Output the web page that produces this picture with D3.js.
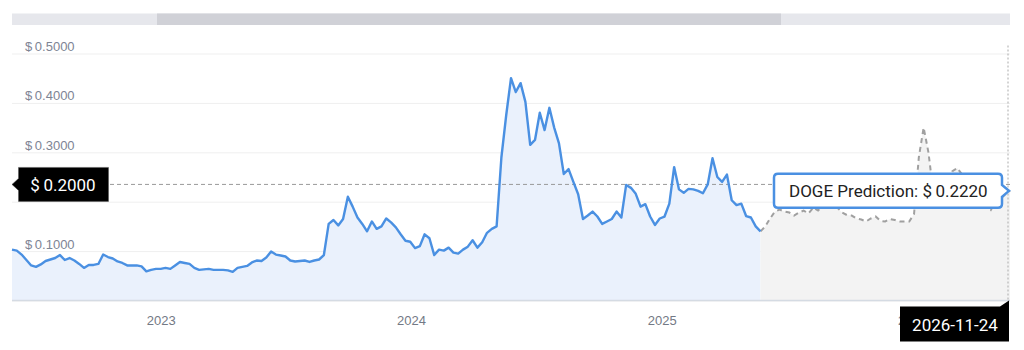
<!DOCTYPE html>
<html>
<head>
<meta charset="utf-8">
<script src="https://cdn.jsdelivr.net/npm/d3@7"></script>
<style>
  body { margin: 0; background: #fff; }
  svg { display: block; font-family: Roboto, "Noto Sans", sans-serif; }
</style>
</head>
<body>
<svg id="chart" width="1024" height="350"></svg>
<script>
// weekly DOGE closes
var histStart = "2022-05-29";
var histPrices = [
  0.103, 0.101, 0.093, 0.082, 0.071, 0.068, 0.073, 0.080, 0.083, 0.086,
  0.092, 0.082, 0.086, 0.081, 0.074, 0.066, 0.072, 0.072, 0.074, 0.093,
  0.088, 0.085, 0.079, 0.076, 0.071, 0.071, 0.071, 0.069, 0.059, 0.062,
  0.064, 0.064, 0.066, 0.064, 0.071, 0.078, 0.076, 0.074, 0.066, 0.062,
  0.063, 0.064, 0.062, 0.062, 0.062, 0.061, 0.058, 0.066, 0.068, 0.070,
  0.077, 0.081, 0.080, 0.087, 0.099, 0.093, 0.091, 0.089, 0.081, 0.079,
  0.080, 0.081, 0.078, 0.081, 0.083, 0.092, 0.155, 0.163, 0.152, 0.165,
  0.210, 0.190, 0.168, 0.155, 0.140, 0.160, 0.145, 0.150, 0.166, 0.158,
  0.148, 0.134, 0.121, 0.119, 0.106, 0.110, 0.134, 0.126, 0.092, 0.103,
  0.101, 0.107, 0.097, 0.095, 0.103, 0.109, 0.122, 0.107, 0.118, 0.137,
  0.145, 0.150, 0.290, 0.375, 0.450, 0.422, 0.440, 0.402, 0.315, 0.325,
  0.380, 0.345, 0.390, 0.350, 0.318, 0.256, 0.266, 0.240, 0.215, 0.165,
  0.172, 0.180, 0.170, 0.155, 0.160, 0.165, 0.180, 0.168, 0.234, 0.228,
  0.216, 0.190, 0.195, 0.170, 0.153, 0.166, 0.170, 0.196, 0.270, 0.225,
  0.218, 0.226, 0.225, 0.222, 0.217, 0.235, 0.288, 0.250, 0.240, 0.255,
  0.203, 0.193, 0.196, 0.171, 0.168, 0.150, 0.140
];

var predStart = "2025-05-25";
var predPrices = [
  0.140, 0.150, 0.166, 0.180, 0.184, 0.180, 0.178, 0.172, 0.178, 0.182,
  0.176, 0.188, 0.182, 0.192, 0.185, 0.195, 0.188, 0.178, 0.173, 0.172,
  0.166, 0.164, 0.160, 0.166, 0.170, 0.161, 0.160, 0.165, 0.163, 0.160,
  0.160, 0.160, 0.175, 0.290, 0.350, 0.300, 0.220, 0.200, 0.205, 0.230,
  0.262, 0.268, 0.255, 0.225, 0.205, 0.200, 0.192, 0.190, 0.183, 0.200,
  0.205, 0.215, 0.222
];

var yTicks = [0, 0.1, 0.2, 0.3, 0.4, 0.5];
var yTickLabels = ["$\u20090.00", "$\u20090.1000", "$\u20090.2000", "$\u20090.3000", "$\u20090.4000", "$\u20090.5000"];
var xTicks = ["2023-01-01", "2024-01-01", "2025-01-01", "2026-01-01"];
var domainDates = ["2022-05-29", "2026-05-24"];

var crossValue = 0.235;
var crossLabel = "$\u20090.2000";
var dateLabel = "2026-11-24";
var tipText = "DOGE Prediction: $\u20090.2220";
var tipValue = 0.222;

var parse = d3.utcParse("%Y-%m-%d");
var weekly = function(start, values) {
  var t0 = parse(start);
  return values.map(function(v, i) { return { date: d3.utcDay.offset(t0, 7 * i), value: v }; });
};
var hist = weekly(histStart, histPrices);
var pred = weekly(predStart, predPrices);

var plotLeft = 12, plotRight = 1010, plotTop = 53.5, plotBottom = 300.5;
var svg = d3.select("#chart");

var x = d3.scaleUtc().domain(domainDates.map(parse)).range([plotLeft, plotRight]);
var y = d3.scaleLinear().domain([0, 0.5]).range([plotBottom, plotTop]);

// navigator scrollbar
svg.append("rect").attr("x", plotLeft).attr("y", 13.5).attr("width", plotRight - plotLeft).attr("height", 11.5).attr("fill", "#e6e7ec");
svg.append("rect").attr("x", 157).attr("y", 13.5).attr("width", 624).attr("height", 11.5).attr("fill", "#d0d1d7");

// grid + y labels
var yAxis = svg.append("g")
  .attr("transform", "translate(" + plotLeft + ",0)")
  .call(d3.axisRight(y).tickValues(yTicks).tickSize(plotRight - plotLeft)
    .tickFormat(function(d, i) { return yTickLabels[i]; }));
yAxis.select(".domain").remove();
yAxis.selectAll("line").attr("stroke", "#efefef");
yAxis.selectAll("text")
  .attr("x", 13).attr("y", -3).attr("dy", 0)
  .attr("text-anchor", "start")
  .attr("fill", "#7d8494").style("font-size", "13px");

// areas + lines
var area = d3.area().x(function(d) { return x(d.date); }).y0(y(0)).y1(function(d) { return y(d.value); });
var line = d3.line().x(function(d) { return x(d.date); }).y(function(d) { return y(d.value); });

svg.append("path").datum(hist).attr("d", area).attr("fill", "#eaf1fc");
svg.append("path").datum(pred).attr("d", area).attr("fill", "#f3f3f3");

svg.append("line").attr("x1", plotLeft).attr("x2", plotRight).attr("y1", plotBottom).attr("y2", plotBottom)
  .attr("stroke", "#d5dbe3").attr("stroke-width", 1.5);

// crosshairs
svg.append("line").attr("x1", plotLeft).attr("x2", plotRight)
  .attr("y1", y(crossValue)).attr("y2", y(crossValue))
  .attr("stroke", "#999").attr("stroke-dasharray", "4,3");
svg.append("line").attr("x1", plotRight - 2).attr("x2", plotRight - 2)
  .attr("y1", plotTop - 8).attr("y2", plotBottom)
  .attr("stroke", "#aaa").attr("stroke-dasharray", "2,2");

svg.append("path").datum(pred).attr("d", line)
  .attr("fill", "none").attr("stroke", "#a0a0a0").attr("stroke-width", 2)
  .attr("stroke-dasharray", "5,4");

svg.append("path").datum(hist).attr("d", line)
  .attr("fill", "none").attr("stroke", "#4a90e2").attr("stroke-width", 2.4)
  .attr("stroke-linejoin", "round");

// x axis labels
var xAxis = svg.append("g")
  .attr("transform", "translate(0," + plotBottom + ")")
  .call(d3.axisBottom(x).tickValues(xTicks.map(parse)).tickSize(0).tickPadding(15)
    .tickFormat(d3.utcFormat("%Y")));
xAxis.select(".domain").remove();
xAxis.selectAll("text").attr("fill", "#737985").style("font-size", "13px");

// y crosshair label
var cy = y(crossValue);
svg.append("path")
  .attr("d", "M12," + cy + " L18.5," + (cy - 6) + " L18.5," + (cy - 17) + " L108.5," + (cy - 17) +
    " L108.5," + (cy + 17) + " L18.5," + (cy + 17) + " L18.5," + (cy + 6) + " Z")
  .attr("fill", "#000").attr("stroke", "#555").attr("stroke-width", 0.5);
svg.append("text").attr("x", 63).attr("y", cy).attr("dy", "0.36em")
  .attr("text-anchor", "middle").attr("fill", "#fff").style("font-size", "17px")
  .text(crossLabel);

// x crosshair label
var bx = plotRight - 1;
svg.append("path")
  .attr("d", "M900," + (plotBottom + 6) + " L" + (bx - 9) + "," + (plotBottom + 6) + " L" + bx + "," + plotBottom +
    " L" + bx + "," + (plotBottom + 41) + " L900," + (plotBottom + 41) + " Z")
  .attr("fill", "#000");
svg.append("text").attr("x", 955).attr("y", plotBottom + 24).attr("dy", "0.36em")
  .attr("text-anchor", "middle").attr("fill", "#fff").style("font-size", "17px")
  .text(dateLabel);

// tooltip
var ty = y(tipValue);
svg.append("path")
  .attr("d", "M778," + (ty - 17) + " L998," + (ty - 17) + " Q1002," + (ty - 17) + " 1002," + (ty - 13) +
    " L1002," + (ty - 6) + " L1009," + ty + " L1002," + (ty + 6) + " L1002," + (ty + 13) +
    " Q1002," + (ty + 17) + " 998," + (ty + 17) + " L778," + (ty + 17) + " Q774," + (ty + 17) + " 774," + (ty + 13) +
    " L774," + (ty - 13) + " Q774," + (ty - 17) + " 778," + (ty - 17) + " Z")
  .attr("fill", "#fff").attr("stroke", "#4a90e2").attr("stroke-width", 2.5);
svg.append("text").attr("x", 789).attr("y", ty).attr("dy", "0.36em")
  .attr("fill", "#222").style("font-size", "17px")
  .text(tipText);
</script>
</body>
</html>
